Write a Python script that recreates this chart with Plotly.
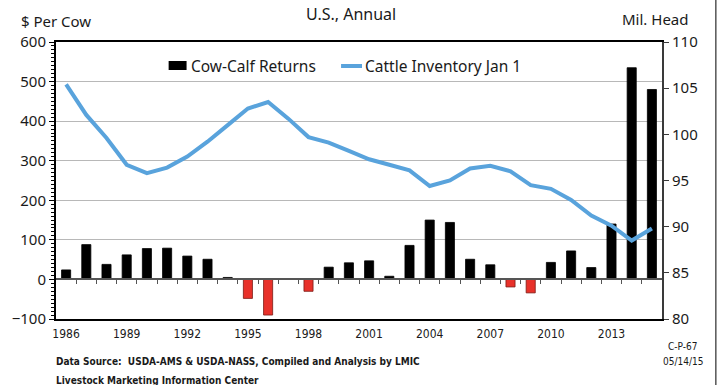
import plotly.graph_objects as go

years = list(range(1986, 2016))
returns = [24, 88, 38, 62, 78, 79, 59, 51, 5, -48, -90, 2, -30, 31, 42,
           47, 8, 86, 150, 144, 51, 37, -19, -34, 43, 72, 30, 140, 535, 480]
inventory = [105.4, 102.1, 99.6, 96.7, 95.8, 96.4, 97.6, 99.2, 101.0, 102.8,
             103.5, 101.7, 99.7, 99.1, 98.2, 97.3, 96.7, 96.1, 94.4, 95.0,
             96.3, 96.6, 96.0, 94.5, 94.1, 92.9, 91.2, 90.1, 88.5, 89.8]
xtick_years = list(range(1986, 2014, 3))
left_ticks = [-100, 0, 100, 200, 300, 400, 500, 600]
right_ticks = [80, 85, 90, 95, 100, 105, 110]

FONT = "Noto Sans"
NARROW = "Liberation Sans Narrow, Arial Narrow, DejaVu Sans Condensed"
BLUE = "#59a3dc"

L, R, T, B = 54, 662, 42, 319
W, H = R - L, B - T


def px(x):
    return (x - L) / W


def py(y):
    return (B - y) / H


bar_colors = ["#000000" if v >= 0 else "#e8312a" for v in returns]
bar_lines = ["#000000" if v >= 0 else "#7a1a14" for v in returns]

fig = go.Figure()
fig.add_trace(go.Bar(
    x=years, y=returns, name="Cow-Calf Returns",
    marker=dict(color=bar_colors, line=dict(color=bar_lines, width=0.8)),
    width=0.45, yaxis="y", xaxis="x", showlegend=False,
))
fig.add_trace(go.Scatter(
    x=years, y=inventory, name="Cattle Inventory Jan 1", mode="lines",
    line=dict(color=BLUE, width=4), yaxis="y2", xaxis="x", showlegend=False,
))
fig.add_trace(go.Scatter(x=[None], y=[None], xaxis="x2", yaxis="y", showlegend=False))

fig.update_layout(
    width=717, height=385,
    margin=dict(l=L, r=717 - R, t=T, b=385 - B),
    paper_bgcolor="white", plot_bgcolor="white",
    font=dict(family=FONT, size=15, color="#1a1a1a"),
    showlegend=False,
    xaxis=dict(
        range=[1985.5, 2015.5], tickmode="array", tickvals=xtick_years,
        ticktext=[str(y) for y in xtick_years],
        tickfont=dict(family=NARROW, size=12, color="#1a1a1a"),
        showgrid=False, zeroline=False, showline=True, linecolor="#000000",
        linewidth=2, mirror=True, ticks="", ticklabelstandoff=3,
    ),
    xaxis2=dict(
        overlaying="x", anchor="free", position=100/700,
        range=[1985.5, 2015.5], tickmode="array",
        tickvals=[y + 0.5 for y in years[:-1]],
        showticklabels=False, ticks="outside", ticklen=4, tickwidth=1,
        tickcolor="#555555", showline=True, linecolor="#555555", linewidth=1.5,
        showgrid=False, zeroline=False,
    ),
    yaxis=dict(
        range=[-100, 600], tickmode="array", tickvals=left_ticks,
        showgrid=True, gridcolor="#b8b8b8", gridwidth=1, zeroline=False,
        showline=True, linecolor="#000000", linewidth=2,
        ticks="outside", ticklen=5, tickwidth=1, tickcolor="#000000",
        minor=dict(dtick=10, ticks="outside", ticklen=3, tickcolor="#000000", showgrid=False),
        tickfont=dict(size=15),
    ),
    yaxis2=dict(
        range=[80, 110], overlaying="y", side="right", tickmode="array",
        tickvals=right_ticks, showgrid=False, zeroline=False,
        showline=True, linecolor="#3a3a3a", linewidth=2,
        ticks="outside", ticklen=5, tickwidth=1, tickcolor="#3a3a3a",
        tickfont=dict(size=15),
    ),
)

ann = [
    dict(text="U.S., Annual", x=px(350), y=py(14), xanchor="center", font=dict(size=16)),
    dict(text="$ Per Cow", x=px(54), y=py(21), xanchor="center", font=dict(size=15)),
    dict(text="Mil. Head", x=px(620), y=py(19), xanchor="left", font=dict(size=15)),
    dict(text="Cow-Calf Returns", x=px(187), y=py(66), xanchor="left", font=dict(size=15.5)),
    dict(text="Cattle Inventory Jan 1", x=px(362), y=py(66), xanchor="left", font=dict(size=15.5)),
]
foot = [
    ("Data Source:  USDA-AMS & USDA-NASS, Compiled and Analysis by LMIC", 52, 361, "left", "bold"),
    ("Livestock Marketing Information Center", 52, 380, "left", "bold"),
    ("C-P-67", 683, 346, "center", "normal"),
    ("05/14/15", 683, 361, "center", "normal"),
]
for t, xx, yy, anc, wt in foot:
    ann.append(dict(text=t, x=px(xx), y=py(yy), xanchor=anc,
                    font=dict(family=NARROW, size=10, color="#1a1a1a", weight=wt)))
for a in ann:
    a.update(xref="paper", yref="paper", yanchor="middle", showarrow=False)
fig.update_layout(annotations=ann)

# manual legend symbols
fig.add_shape(type="rect", xref="paper", yref="paper",
              x0=px(167), x1=px(185), y0=py(70), y1=py(61),
              fillcolor="#000000", line=dict(width=0))
fig.add_shape(type="line", xref="paper", yref="paper",
              x0=px(340), x1=px(361), y0=py(66), y1=py(66),
              line=dict(color=BLUE, width=4))
# outer right border
fig.add_shape(type="line", xref="paper", yref="paper",
              x0=px(716), x1=px(716), y0=py(0), y1=py(385),
              line=dict(color="#555555", width=1.5))

fig.write_html("out.html")
